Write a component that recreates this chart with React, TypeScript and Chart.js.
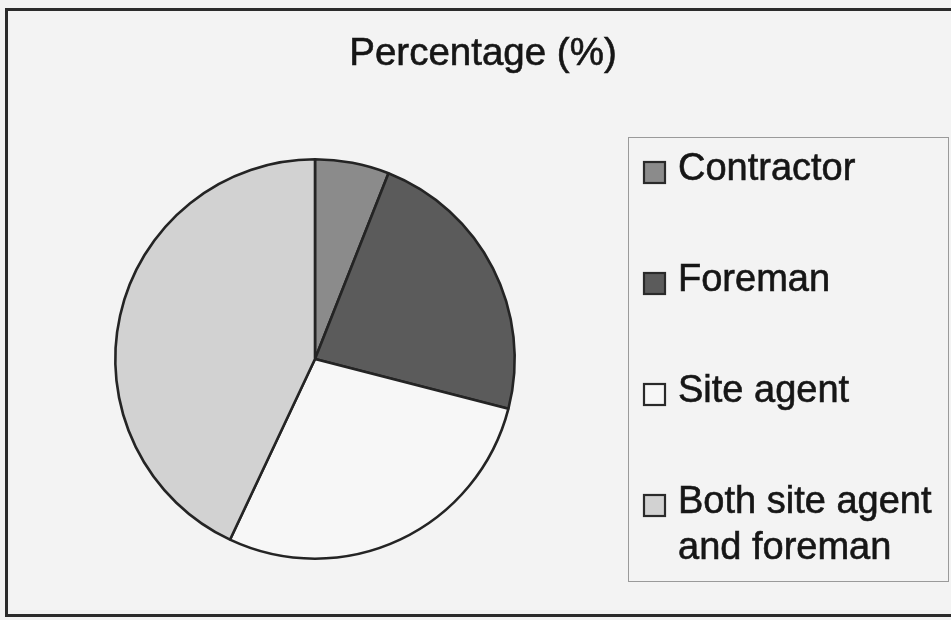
import React, { useEffect, useRef } from 'react';
import { Chart, registerables } from 'chart.js';

Chart.register(...registerables);

const categories = ['Contractor', 'Foreman', 'Site agent', 'Both site agent and foreman'];
const percentages = [6, 23, 28, 43];
const sliceColors = ['#8b8b8b', '#5b5b5b', '#f7f7f7', '#d2d2d2'];
const titleText = 'Percentage (%)';

const FONT = '"Liberation Sans", Arial, sans-serif';

function wrapText(ctx: CanvasRenderingContext2D, text: string, maxWidth: number): string[] {
  const words = text.split(' ');
  const lines: string[] = [];
  let cur = '';
  for (const w of words) {
    const test = cur ? cur + ' ' + w : w;
    if (cur && ctx.measureText(test).width > maxWidth) {
      lines.push(cur);
      cur = w;
    } else {
      cur = test;
    }
  }
  if (cur) lines.push(cur);
  return lines;
}

export default function App() {
  const ref = useRef<HTMLCanvasElement>(null);

  useEffect(() => {
    document.body.style.margin = '0';
    const canvas = ref.current;
    if (!canvas) return;

    const decorPlugin = {
      id: 'decor',
      beforeDraw(chart: any) {
        const ctx = chart.ctx as CanvasRenderingContext2D;
        ctx.save();
        ctx.fillStyle = '#f3f3f3';
        ctx.fillRect(0, 0, chart.width, chart.height);
        ctx.strokeStyle = '#2b2b2b';
        ctx.lineWidth = 3;
        ctx.strokeRect(6.5, 9.5, 1000, 606);
        ctx.restore();
      },
      afterDraw(chart: any) {
        const ctx = chart.ctx as CanvasRenderingContext2D;
        ctx.save();
        // Title
        ctx.fillStyle = '#161616';
        ctx.strokeStyle = '#161616';
        ctx.lineWidth = 0.6;
        ctx.font = `38.5px ${FONT}`;
        ctx.textAlign = 'center';
        ctx.textBaseline = 'alphabetic';
        ctx.fillText(titleText, 483, 65);
        ctx.strokeText(titleText, 483, 65);

        // Legend box
        const boxL = 628, boxT = 137, boxR = 948, boxB = 581;
        ctx.strokeStyle = '#9a9a9a';
        ctx.lineWidth = 1;
        ctx.strokeRect(boxL + 0.5, boxT + 0.5, boxR - boxL, boxB - boxT);

        const labels: string[] = chart.data.labels;
        const colors: string[] = chart.data.datasets[0].backgroundColor;
        ctx.font = `38px ${FONT}`;
        ctx.textAlign = 'left';
        const textX = 678;
        const maxW = boxR - textX - 4;
        let baseline = 180;
        labels.forEach((lab, i) => {
          const lines = wrapText(ctx, lab, maxW);
          // square
          ctx.fillStyle = colors[i];
          ctx.fillRect(644, baseline - 18, 21, 21);
          ctx.strokeStyle = '#2a2a2a';
          ctx.lineWidth = 2.2;
          ctx.strokeRect(644, baseline - 18, 21, 21);
          ctx.fillStyle = '#161616';
          ctx.strokeStyle = '#161616';
          ctx.lineWidth = 0.6;
          lines.forEach((ln, j) => {
            ctx.fillText(ln, textX, baseline + j * 46);
            ctx.strokeText(ln, textX, baseline + j * 46);
          });
          baseline += 111;
        });
        ctx.restore();
      },
    };

    const chart = new Chart(canvas, {
      type: 'pie',
      data: {
        labels: categories,
        datasets: [
          {
            data: percentages,
            backgroundColor: sliceColors,
            borderColor: '#242424',
            borderWidth: 2.6,
            hoverOffset: 0,
          },
        ],
      },
      options: {
        responsive: false,
        animation: false,
        layout: { padding: { left: 114, top: 158, right: 435, bottom: 60 } },
        plugins: {
          legend: { display: false },
          title: { display: false },
          tooltip: { enabled: false },
        },
      },
      plugins: [decorPlugin],
    });

    return () => chart.destroy();
  }, []);

  return (
    <div style={{ position: 'absolute', left: 0, top: 0, width: 951, height: 620 }}>
      <canvas ref={ref} width={951} height={620} style={{ display: 'block' }} />
    </div>
  );
}
